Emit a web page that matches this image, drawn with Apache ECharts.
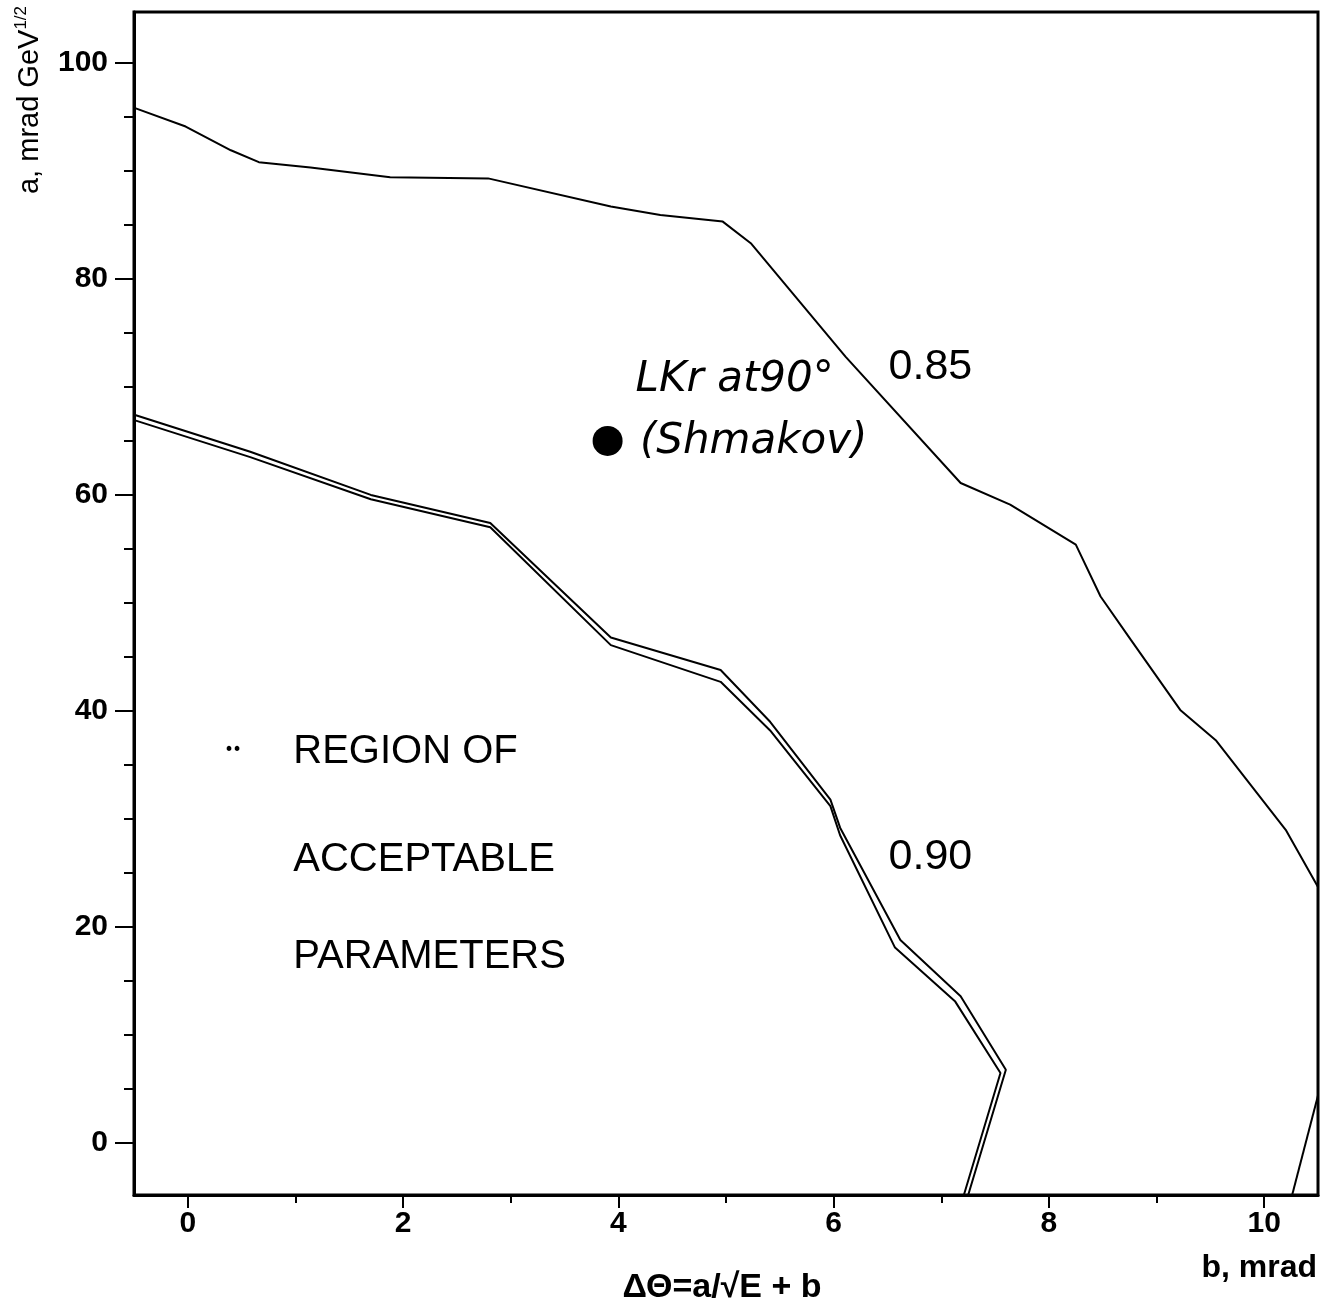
<!DOCTYPE html>
<html>
<head>
<meta charset="utf-8">
<script src="https://cdn.jsdelivr.net/npm/echarts@6/dist/echarts.min.js"></script>
<style>
  html, body { margin: 0; padding: 0; background: #fff; }
  #chart { width: 1326px; height: 1312px; }
</style>
</head>
<body>
<div id="chart"></div>
<script>
// Axis ticks (b in mrad, a in mrad GeV^1/2)
const xMajorTicks = [0, 2, 4, 6, 8, 10];
const xMinorTicks = [1, 3, 5, 7, 9];
const yMajorTicks = [0, 20, 40, 60, 80, 100];
const yMinorTicks = [5, 10, 15, 25, 30, 35, 45, 50, 55, 65, 70, 75, 85, 90, 95];

// Contour at 0.85: [b, a]
const contour085 = [
  [-0.49, 95.8], [-0.02, 94.1], [0.40, 91.9], [0.66, 90.8], [1.14, 90.3],
  [1.88, 89.4], [2.79, 89.3], [3.93, 86.7], [4.39, 85.9], [4.97, 85.3],
  [5.23, 83.3], [6.11, 72.8], [7.18, 61.1], [7.64, 59.1], [8.25, 55.4],
  [8.48, 50.6], [8.76, 46.6], [9.22, 40.1], [9.55, 37.3], [10.2, 29.0],
  [10.5, 23.7]
];
// Lower-right piece of the same contour
const contour085Tail = [[10.26, -4.8], [10.5, 4.4]];

// Contour at 0.90, drawn as two close traces
const contour090Outer = [
  [-0.49, 67.4], [0.58, 64.0], [1.70, 60.0], [2.81, 57.4], [3.93, 46.8],
  [4.95, 43.8], [5.41, 39.0], [5.97, 31.8], [6.06, 29.2], [6.62, 18.8],
  [7.18, 13.6], [7.60, 6.8], [7.25, -4.8]
];
const contour090Inner = [
  [-0.49, 66.9], [0.58, 63.5], [1.70, 59.6], [2.81, 57.0], [3.93, 46.1],
  [4.95, 42.7], [5.41, 38.2], [5.97, 31.2], [6.06, 28.5], [6.57, 18.1],
  [7.13, 13.1], [7.55, 6.5], [7.21, -4.8]
];

// LKr calorimeter at 90 degrees
const lkrPoint = [[3.90, 65.0]];

// Text notes anchored in data space: [text, b, a]
const contourLabels = [['0.85', 6.51, 71.8], ['0.90', 6.51, 26.5]];
const regionLines = [['REGION OF', 0.98, 36.2], ['ACCEPTABLE', 0.98, 26.2], ['PARAMETERS', 0.98, 17.2]];
const lkrNotes = [['LKr at90°', 4.16, 70.6], ['(Shmakov)', 4.20, 64.9]];

const FONT = '"Liberation Sans", Arial, sans-serif';
const chart = echarts.init(document.getElementById('chart'), null, { renderer: 'canvas' });

function noteSeries(name, items, labelStyle) {
  return {
    name, type: 'scatter', symbolSize: 0, silent: true, z: 5,
    itemStyle: { opacity: 1 },
    data: items.map(d => ({ name: d[0], value: [d[1], d[2]] })),
    label: Object.assign({
      show: true, position: 'right', distance: 0, color: '#000', opacity: 1,
      fontFamily: FONT, formatter: p => p.name
    }, labelStyle)
  };
}

const lineStyle = { color: '#000', width: 2, opacity: 1 };
const frameLine = { show: true, onZero: false, lineStyle: { color: '#000', width: 3 } };
const baseX = { type: 'value', min: -0.5, max: 10.5, splitLine: { show: false } };
const baseY = { type: 'value', min: -4.8, max: 104.7, splitLine: { show: false } };

chart.setOption({
  animation: false,
  backgroundColor: '#fff',
  grid: {
    left: 134, right: 8, top: 12, bottom: 117,
    show: true, borderColor: '#000', borderWidth: 3, containLabel: false
  },
  xAxis: [
    Object.assign({}, baseX, {
      position: 'bottom',
      axisLine: frameLine,
      axisTick: { show: true, customValues: xMajorTicks, length: 13, lineStyle: { color: '#000', width: 2 } },
      axisLabel: { show: true, customValues: xMajorTicks, margin: 14, color: '#000', fontSize: 30, fontFamily: FONT, fontWeight: 'bold' }
    }),
    Object.assign({}, baseX, {
      position: 'bottom',
      axisLine: { show: false, onZero: false },
      axisTick: { show: true, customValues: xMinorTicks, length: 8, lineStyle: { color: '#000', width: 2 } },
      axisLabel: { show: false }
    })
  ],
  yAxis: [
    Object.assign({}, baseY, {
      position: 'left',
      axisLine: frameLine,
      axisTick: { show: true, customValues: yMajorTicks, length: 19, lineStyle: { color: '#000', width: 2 } },
      axisLabel: { show: true, customValues: yMajorTicks, margin: 26, color: '#000', fontSize: 30, fontFamily: FONT, fontWeight: 'bold' }
    }),
    Object.assign({}, baseY, {
      position: 'left',
      axisLine: { show: false, onZero: false },
      axisTick: { show: true, customValues: yMinorTicks, length: 10, lineStyle: { color: '#000', width: 2 } },
      axisLabel: { show: false }
    })
  ],
  series: [
    { name: '0.85', type: 'line', data: contour085, showSymbol: false, symbol: 'none', lineStyle, clip: true },
    { name: '0.85 tail', type: 'line', data: contour085Tail, showSymbol: false, symbol: 'none', lineStyle, clip: true },
    { name: '0.90 outer', type: 'line', data: contour090Outer, showSymbol: false, symbol: 'none', lineStyle, clip: true },
    { name: '0.90 inner', type: 'line', data: contour090Inner, showSymbol: false, symbol: 'none', lineStyle, clip: true },
    { name: 'LKr', type: 'scatter', data: lkrPoint, symbol: 'circle', symbolSize: 30, itemStyle: { color: '#000', opacity: 1 } },
    noteSeries('contour labels', contourLabels, { fontSize: 43 }),
    noteSeries('region', regionLines, { fontSize: 40 }),
    noteSeries('lkr notes', lkrNotes, { fontSize: 42, fontStyle: 'italic', fontFamily: '"DejaVu Sans", sans-serif' })
  ],
  graphic: [
    {
      type: 'text', x: 30, y: 100, rotation: Math.PI / 2,
      style: {
        text: '{t|a, mrad GeV}{s|1/2}',
        align: 'center', verticalAlign: 'middle',
        rich: {
          t: { fontSize: 29, fontFamily: FONT, fill: '#000', lineHeight: 34 },
          s: { fontSize: 17, fontFamily: FONT, fill: '#000', verticalAlign: 'top', lineHeight: 34 }
        }
      }
    },
    {
      type: 'text', x: 1317, y: 1268,
      style: { text: 'b, mrad', align: 'right', verticalAlign: 'middle', fontSize: 32, fontWeight: 'bold', fontFamily: FONT, fill: '#000' }
    },
    {
      type: 'text', x: 722, y: 1288,
      style: { text: 'ΔΘ=a/√E + b', align: 'center', verticalAlign: 'middle', fontSize: 34, fontWeight: 'bold', fontFamily: FONT, fill: '#000' }
    },
    {
      type: 'text', x: 233, y: 742,
      style: { text: '‥', align: 'center', verticalAlign: 'middle', fontSize: 30, fontWeight: 'bold', fontFamily: FONT, fill: '#000' }
    }
  ]
});
</script>
</body>
</html>
